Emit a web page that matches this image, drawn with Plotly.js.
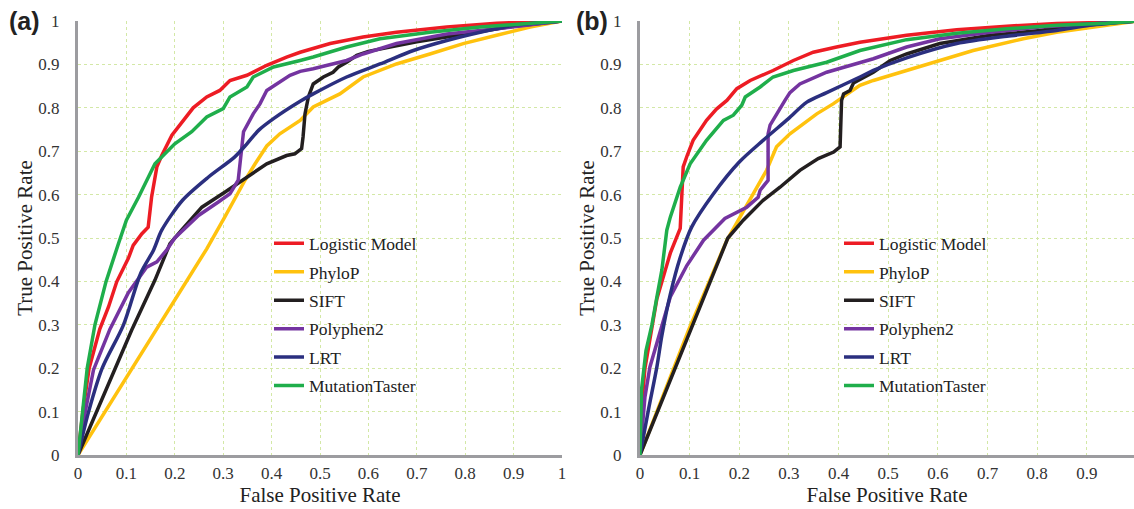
<!DOCTYPE html>
<html>
<head>
<meta charset="utf-8">
<script src="https://cdn.plot.ly/plotly-3.0.1.min.js"></script>
<style>html,body{margin:0;padding:0;background:#fff;overflow:hidden}#chart{width:1134px;height:509px}</style>
</head>
<body>
<div id="chart"></div>
<script>
// ---- data ----
const seriesNames = ["Logistic Model", "PhyloP", "SIFT", "Polyphen2", "LRT", "MutationTaster"];
const seriesColors = ["#ed1c24", "#ffc20e", "#231f20", "#7434a0", "#2b2f7f", "#1fae4b"];
const tickVals = [0, 0.1, 0.2, 0.3, 0.4, 0.5, 0.6, 0.7, 0.8, 0.9, 1];
const tickText = ["0", "0.1", "0.2", "0.3", "0.4", "0.5", "0.6", "0.7", "0.8", "0.9", "1"];

// Panel (a)
const lmA_x = [0, 0.01, 0.023, 0.045, 0.063, 0.08, 0.104, 0.114, 0.132, 0.145, 0.152, 0.163, 0.173, 0.194, 0.238, 0.266, 0.293, 0.314, 0.349, 0.39, 0.431, 0.459, 0.521, 0.589, 0.658, 0.762, 0.865, 1];
const lmA_y = [0, 0.1, 0.2, 0.29, 0.341, 0.399, 0.453, 0.483, 0.51, 0.525, 0.594, 0.664, 0.69, 0.737, 0.8, 0.825, 0.84, 0.863, 0.875, 0.898, 0.917, 0.928, 0.948, 0.963, 0.974, 0.986, 0.995, 1];
const phA_x = [0, 0.1, 0.2, 0.266, 0.304, 0.345, 0.366, 0.39, 0.417, 0.459, 0.486, 0.541, 0.589, 0.658, 0.727, 0.796, 0.865, 0.934, 1];
const phA_y = [0, 0.178, 0.357, 0.475, 0.55, 0.633, 0.671, 0.712, 0.74, 0.771, 0.802, 0.832, 0.871, 0.901, 0.924, 0.948, 0.967, 0.986, 1];
const siA_x = [0, 0.111, 0.159, 0.19, 0.214, 0.256, 0.304, 0.366, 0.39, 0.431, 0.448, 0.462, 0.465, 0.469, 0.476, 0.486, 0.507, 0.527, 0.538, 0.555, 0.576, 0.6, 0.7, 0.8, 0.9, 1];
const siA_y = [0, 0.288, 0.403, 0.487, 0.518, 0.571, 0.606, 0.652, 0.671, 0.69, 0.694, 0.706, 0.733, 0.786, 0.825, 0.855, 0.871, 0.882, 0.894, 0.905, 0.921, 0.93, 0.952, 0.97, 0.988, 1];
const ppA_x = [0, 0.015, 0.032, 0.066, 0.104, 0.142, 0.163, 0.183, 0.2, 0.249, 0.29, 0.314, 0.331, 0.338, 0.342, 0.362, 0.376, 0.39, 0.41, 0.438, 0.459, 0.486, 0.555, 0.589, 0.658, 0.762, 0.865, 1];
const ppA_y = [0, 0.1, 0.196, 0.29, 0.374, 0.433, 0.445, 0.472, 0.5, 0.552, 0.583, 0.602, 0.633, 0.71, 0.745, 0.786, 0.809, 0.84, 0.855, 0.875, 0.884, 0.89, 0.909, 0.924, 0.948, 0.97, 0.982, 1];
const lrA_x = [0, 0.022, 0.05, 0.094, 0.13, 0.156, 0.173, 0.216, 0.269, 0.324, 0.349, 0.373, 0.404, 0.459, 0.486, 0.555, 0.624, 0.693, 0.762, 0.831, 0.9, 1];
const lrA_y = [0, 0.1, 0.2, 0.3, 0.42, 0.472, 0.518, 0.587, 0.64, 0.687, 0.717, 0.748, 0.775, 0.815, 0.832, 0.871, 0.901, 0.932, 0.955, 0.974, 0.99, 1];
const mtA_x = [0, 0.01, 0.019, 0.035, 0.058, 0.083, 0.1, 0.125, 0.159, 0.2, 0.235, 0.266, 0.3, 0.314, 0.349, 0.362, 0.404, 0.459, 0.486, 0.555, 0.624, 0.727, 0.831, 1];
const mtA_y = [0, 0.1, 0.2, 0.3, 0.4, 0.485, 0.541, 0.594, 0.671, 0.717, 0.745, 0.779, 0.798, 0.825, 0.848, 0.871, 0.894, 0.909, 0.917, 0.94, 0.959, 0.974, 0.986, 1];

// Panel (b)
const lmB_x = [0, 0.004, 0.01, 0.022, 0.034, 0.051, 0.061, 0.081, 0.084, 0.087, 0.095, 0.107, 0.134, 0.154, 0.175, 0.195, 0.222, 0.268, 0.309, 0.349, 0.396, 0.443, 0.537, 0.638, 0.739, 0.839, 0.94, 1];
const lmB_y = [0, 0.12, 0.2, 0.28, 0.36, 0.426, 0.465, 0.522, 0.61, 0.664, 0.69, 0.725, 0.771, 0.797, 0.817, 0.844, 0.863, 0.886, 0.909, 0.928, 0.94, 0.951, 0.967, 0.98, 0.988, 0.994, 0.997, 1];
const phB_x = [0, 0.098, 0.175, 0.198, 0.228, 0.255, 0.275, 0.302, 0.356, 0.389, 0.443, 0.47, 0.537, 0.604, 0.671, 0.772, 0.839, 0.94, 1];
const phB_y = [0, 0.288, 0.495, 0.541, 0.602, 0.656, 0.71, 0.74, 0.786, 0.809, 0.852, 0.863, 0.886, 0.909, 0.932, 0.959, 0.974, 0.99, 1];
const siB_x = [0, 0.101, 0.177, 0.208, 0.248, 0.282, 0.312, 0.322, 0.359, 0.39, 0.403, 0.406, 0.41, 0.423, 0.43, 0.47, 0.504, 0.537, 0.604, 0.705, 0.806, 0.872, 1];
const siB_y = [0, 0.288, 0.5, 0.541, 0.587, 0.617, 0.648, 0.656, 0.683, 0.698, 0.71, 0.817, 0.832, 0.84, 0.857, 0.882, 0.909, 0.924, 0.948, 0.967, 0.978, 0.99, 1];
const ppB_x = [0, 0.01, 0.02, 0.04, 0.061, 0.094, 0.128, 0.171, 0.215, 0.238, 0.242, 0.258, 0.258, 0.262, 0.275, 0.292, 0.302, 0.322, 0.376, 0.443, 0.47, 0.537, 0.604, 0.705, 0.806, 1];
const ppB_y = [0, 0.134, 0.203, 0.28, 0.364, 0.436, 0.495, 0.545, 0.571, 0.594, 0.61, 0.633, 0.74, 0.76, 0.786, 0.817, 0.835, 0.855, 0.882, 0.905, 0.913, 0.94, 0.959, 0.974, 0.986, 1];
const lrB_x = [0, 0.017, 0.034, 0.044, 0.061, 0.081, 0.104, 0.148, 0.2, 0.248, 0.299, 0.336, 0.376, 0.443, 0.47, 0.537, 0.638, 0.739, 0.839, 0.906, 1];
const lrB_y = [0, 0.104, 0.203, 0.275, 0.37, 0.455, 0.525, 0.602, 0.675, 0.725, 0.775, 0.813, 0.835, 0.871, 0.886, 0.915, 0.948, 0.965, 0.978, 0.99, 1];
const mtB_x = [0, 0.003, 0.012, 0.024, 0.035, 0.044, 0.054, 0.061, 0.081, 0.101, 0.134, 0.168, 0.188, 0.205, 0.212, 0.242, 0.268, 0.309, 0.376, 0.443, 0.537, 0.638, 0.739, 0.839, 0.94, 1];
const mtB_y = [0, 0.15, 0.24, 0.3, 0.37, 0.426, 0.518, 0.548, 0.617, 0.671, 0.725, 0.771, 0.783, 0.806, 0.825, 0.848, 0.871, 0.886, 0.905, 0.932, 0.957, 0.972, 0.982, 0.99, 0.995, 1];

// ---- build traces ----
const panelA = [[lmA_x, lmA_y], [phA_x, phA_y], [siA_x, siA_y], [ppA_x, ppA_y], [lrA_x, lrA_y], [mtA_x, mtA_y]];
const panelB = [[lmB_x, lmB_y], [phB_x, phB_y], [siB_x, siB_y], [ppB_x, ppB_y], [lrB_x, lrB_y], [mtB_x, mtB_y]];
const smoothSeries = {"LRT": true};

const SERIF = 'Liberation Serif';
const traces = [];
function addPanel(data, xa, ya, leg, suffix) {
  data.forEach((d, i) => {
    const smooth = smoothSeries[seriesNames[i]];
    traces.push({
      type: 'scatter', mode: 'lines',
      x: d[0], y: d[1],
      xaxis: xa, yaxis: ya,
      name: seriesNames[i],
      legend: leg,
      legendgroup: seriesNames[i] + suffix,
      line: smooth ? {color: seriesColors[i], width: 3.5, shape: 'spline', smoothing: 0.8}
                   : {color: seriesColors[i], width: 3.5},
      hoverinfo: 'skip'
    });
  });
}
addPanel(panelA, 'x', 'y', 'legend', 'a');
addPanel(panelB, 'x2', 'y2', 'legend2', 'b');

const gridColor = '#d3e8a6';
const axisLineColor = '#9c9ca0';
const tickFont = {family: SERIF, size: 17, color: '#333333'};
const titleFont = {family: SERIF, size: 21, color: '#222222'};

function xAxis(domain, range) {
  return {
    domain: domain, range: range, fixedrange: true,
    tickmode: 'array', tickvals: tickVals, ticktext: tickText,
    showgrid: true, gridcolor: gridColor, gridwidth: 1, griddash: 'dot',
    zeroline: false, showline: true, linecolor: axisLineColor, linewidth: 3,
    ticks: '', ticklabelstandoff: 1, tickfont: tickFont,
    title: {text: 'False Positive Rate', font: titleFont, standoff: 4}
  };
}
function yAxis(anchor) {
  return {
    domain: [0, 1], range: [0, 1], fixedrange: true, anchor: anchor,
    tickmode: 'array', tickvals: tickVals, ticktext: tickText,
    showgrid: true, gridcolor: gridColor, gridwidth: 1, griddash: 'dot',
    zeroline: false, showline: true, linecolor: axisLineColor, linewidth: 3,
    ticks: '', ticklabelstandoff: 12, tickfont: tickFont,
    title: {text: 'True Positive Rate', font: titleFont, standoff: 0}
  };
}

const legendBase = {
  xanchor: 'left', yanchor: 'top',
  font: {family: SERIF, size: 17.5, color: '#222222'},
  bgcolor: 'rgba(0,0,0,0)', borderwidth: 0,
  tracegroupgap: 2.7, itemwidth: 30
};

const layout = {
  width: 1134, height: 509,
  margin: {l: 0, r: 0, t: 20.5, b: 54, pad: 0},
  paper_bgcolor: '#ffffff', plot_bgcolor: '#ffffff',
  font: {family: SERIF},
  showlegend: true,
  xaxis: Object.assign(xAxis([78 / 1134, 562 / 1134], [0, 1]), {anchor: 'y'}),
  yaxis: yAxis('x'),
  xaxis2: Object.assign(xAxis([640 / 1134, 1], [0, 0.995]), {anchor: 'y2'}),
  yaxis2: yAxis('x2'),
  legend: Object.assign({}, legendBase, {x: 269 / 1134, y: 0.529}),
  legend2: Object.assign({}, legendBase, {x: 839 / 1134, y: 0.529}),
  annotations: [
    {text: '(a)', xref: 'paper', yref: 'paper', x: 24 / 1134, y: 1.0, xanchor: 'center', yanchor: 'middle', showarrow: false,
     font: {family: 'Liberation Sans', size: 25, color: '#222222', weight: 'bold'}},
    {text: '(b)', xref: 'paper', yref: 'paper', x: 592 / 1134, y: 1.0, xanchor: 'center', yanchor: 'middle', showarrow: false,
     font: {family: 'Liberation Sans', size: 25, color: '#222222', weight: 'bold'}}
  ]
};

Plotly.newPlot('chart', traces, layout, {displayModeBar: false, staticPlot: true});
</script>
</body>
</html>
